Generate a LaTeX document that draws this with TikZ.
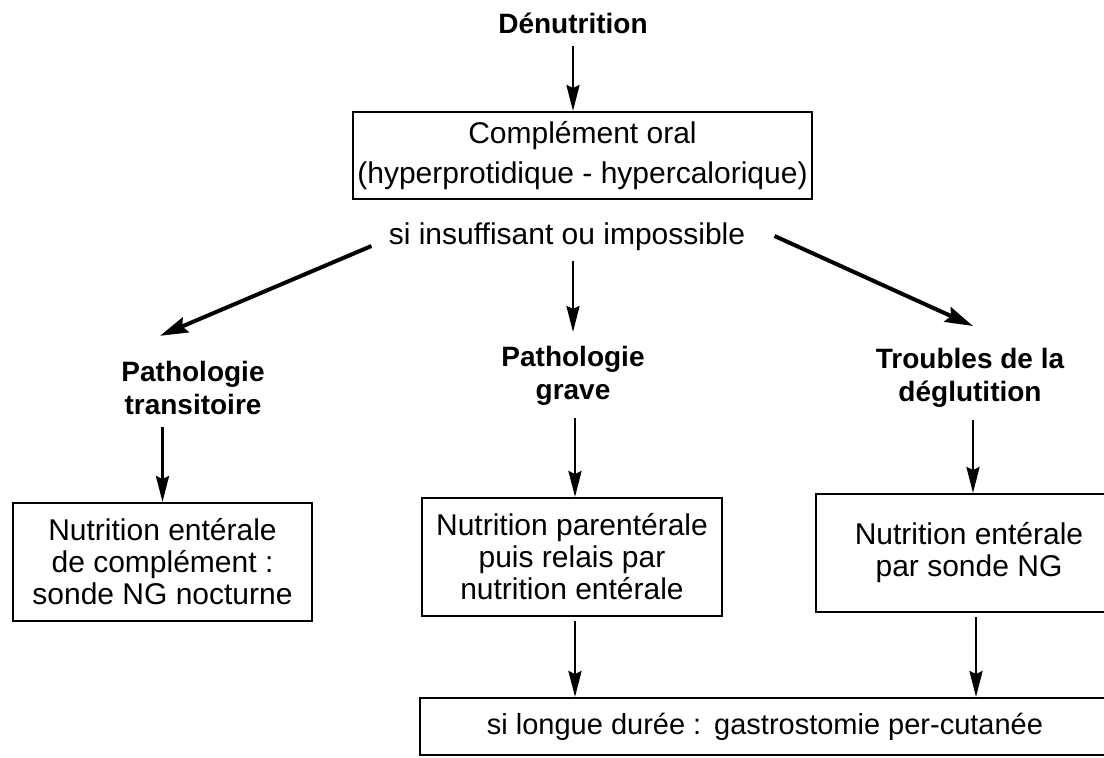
\documentclass[tikz,border=0pt]{standalone}
\usepackage{fontspec}
\setmainfont{Liberation Sans}
\usetikzlibrary{arrows.meta}

\tikzset{
  boite/.style={draw, line width=1pt, align=center, inner sep=0pt,
    font=\fontsize{15}{16}\selectfont},
  titre/.style={align=center, inner sep=0pt,
    font=\bfseries\fontsize{14}{16.5}\selectfont},
  fleche/.style={line width=1.4pt, -{Stealth[length=13pt,width=6.5pt,inset=1.5pt]}},
  grosse/.style={line width=2pt, -{Stealth[length=14pt,width=8pt,inset=2pt]}}
}

\begin{document}
\begin{tikzpicture}[x=0.5pt, y=-0.5pt]
    \useasboundingbox (0,0) rectangle (1104,757);
    \clip (0,0) rectangle (1104,757);

    % haut
    \node[titre] (den) at (573,23) {Dénutrition};
    \node[boite, minimum width=229.5pt, minimum height=43.5pt,
          font=\fontsize{15}{20}\selectfont] (comp) at (582.5,155.5)
        {Complément oral\\(hyperprotidique - hypercalorique)};
    \node[inner sep=0pt, font=\fontsize{15}{16}\selectfont] (si) at (567,237)
        {si insuffisant ou impossible};

    % trois cas
    \node[titre] (ptrans) at (193,388) {Pathologie\\transitoire};
    \node[titre] (pgrave) at (573,376) {Pathologie\\grave};
    \node[titre] (troub) at (970,378) {Troubles de la\\déglutition};

    % conduites
    \node[boite, minimum width=149.5pt, minimum height=59pt] (lbox) at (162.5,562)
        {Nutrition entérale\\de complément :\\sonde NG nocturne};
    \node[boite, minimum width=150pt, minimum height=59pt] (cbox) at (572,557)
        {Nutrition parentérale\\puis relais par\\nutrition entérale};
    \node[boite, minimum width=153pt, minimum height=59pt] (rbox) at (969,553)
        {Nutrition entérale\\par sonde NG};
    \node[boite, minimum width=345pt, minimum height=28.5pt,
          font=\fontsize{14.5}{16}\selectfont] (bbox) at (765,726.5)
        {si longue durée :\ \,gastrostomie per-cutanée};

    % fleches
    \draw[fleche] ([shift={(0,12)}]den.south) -- (den.south |- comp.north);
    \draw[grosse] ([shift={(-17,9)}]si.west) -- ([shift={(-33,-25)}]ptrans.north);
    \draw[fleche] ([shift={(0,10)}]pgrave.north |- si.south) -- ([shift={(0,-14)}]pgrave.north);
    \draw[grosse] ([shift={(29,-1)}]si.east) -- ([shift={(3,-22)}]troub.north);
    \draw[fleche] ([shift={(0,12)}]lbox.north |- ptrans.south) -- (lbox.north);
    \draw[fleche] ([shift={(2,12)}]pgrave.south) -- ([shift={(2,0)}]pgrave.south |- cbox.north);
    \draw[fleche] ([shift={(3,12)}]troub.south) -- ([shift={(3,0)}]troub.south |- rbox.north);
    \draw[fleche] ([shift={(3,4)}]cbox.south) -- ([shift={(3,0)}]cbox.south |- bbox.north);
    \draw[fleche] ([shift={(7,4)}]rbox.south) -- ([shift={(7,0)}]rbox.south |- bbox.north);
\end{tikzpicture}
\end{document}
